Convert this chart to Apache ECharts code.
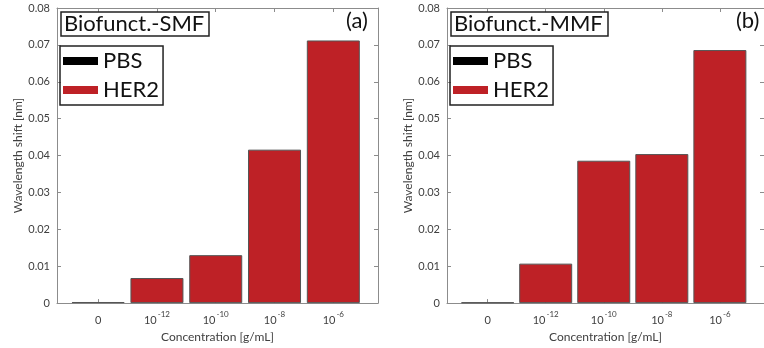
<!DOCTYPE html>
<html>
<head>
<meta charset="utf-8">
<script src="https://cdn.jsdelivr.net/npm/echarts@6/dist/echarts.min.js"></script>
<style>
html,body{margin:0;padding:0;background:#fff;}
#chart{width:764px;height:348px;}
</style>
</head>
<body>
<div id="chart"></div>
<script>
// 横轴位置和刻度标签
var xPos = [1, 2, 3, 4, 5];
var xLabels = ['0', '10^-12', '10^-10', '10^-8', '10^-6'];
// (a) Biofunct.-SMF
var pbsA = [0.0003];
var her2A = [0.0068, 0.0130, 0.0416, 0.0712];
// (b) Biofunct.-MMF
var pbsB = [0.0002];
var her2B = [0.0107, 0.0386, 0.0404, 0.0686];

var font = 'Lato';
var axisGray = '#8c8c8c';
var labelGray = '#404040';
var red = '#be2126';

function toPts(xs, ys){
	var out = [];
	for(var i in ys){
		out.push([xs[i], ys[i]]);
	}
	return out;
}

function xLabelFmt(v){
	var s = xLabels[xPos.indexOf(Math.round(v))] || '';
	var p = s.split('^');
	if(p.length == 1){return '{n|' + s + '}';}
	return '{n|' + p[0] + '}{s|' + p[1] + '}';
}

var richX = {
	n:{fontFamily:font, fontSize:11, color:labelGray, lineHeight:16, verticalAlign:'bottom'},
	s:{fontFamily:font, fontSize:8, color:labelGray, lineHeight:16, verticalAlign:'top', padding:[0,0,6,1]}
};

function bottomX(idx){
	return {
		type:'value', gridIndex:idx, min:0.3, max:5.76,
		name:'Concentration [g/mL]', nameLocation:'middle', nameGap:25,
		nameTextStyle:{fontFamily:font, fontSize:12, color:labelGray},
		axisLine:{show:true, onZero:false, lineStyle:{color:axisGray}},
		axisTick:{show:true, inside:true, length:4, customValues:xPos, lineStyle:{color:axisGray}},
		axisLabel:{show:true, margin:7, customValues:xPos, formatter:xLabelFmt, rich:richX},
		splitLine:{show:false}
	};
}
function topX(idx){
	return {
		type:'value', gridIndex:idx, min:0.3, max:5.76, position:'top',
		axisLine:{show:true, onZero:false, lineStyle:{color:axisGray}},
		axisTick:{show:true, inside:true, length:4, customValues:xPos, lineStyle:{color:axisGray}},
		axisLabel:{show:false},
		splitLine:{show:false}
	};
}
function leftY(idx){
	return {
		type:'value', gridIndex:idx, min:0, max:0.08, interval:0.01,
		name:'Wavelength shift [nm]', nameLocation:'middle', nameGap:33,
		nameTextStyle:{fontFamily:font, fontSize:12, color:labelGray},
		axisLine:{show:true, lineStyle:{color:axisGray}},
		axisTick:{show:true, inside:true, length:4, lineStyle:{color:axisGray}},
		axisLabel:{fontFamily:font, fontSize:11, color:labelGray, margin:7,
			formatter:function(v){return v == 0 ? '0' : v.toFixed(2);}},
		splitLine:{show:false}
	};
}
function rightY(idx){
	return {
		type:'value', gridIndex:idx, min:0, max:0.08, interval:0.01, position:'right',
		axisLine:{show:true, lineStyle:{color:axisGray}},
		axisTick:{show:true, inside:true, length:4, lineStyle:{color:axisGray}},
		axisLabel:{show:false},
		splitLine:{show:false}
	};
}

function legendAt(left){
	return {
		left:left, top:46, orient:'vertical',
		data:['PBS','HER2'],
		icon:'rect', itemWidth:35, itemHeight:8, itemGap:5,
		itemStyle:{borderWidth:0},
		padding:[3,4,3,3],
		borderColor:'#222', borderWidth:1.5,
		textStyle:{fontFamily:font, fontSize:22, color:'#111', lineHeight:24},
		selectedMode:false
	};
}

function barSeries(name, xi, pts, color){
	return {
		name:name, type:'bar', xAxisIndex:xi, yAxisIndex:xi,
		data:pts, barWidth:53, barGap:'-100%',
		itemStyle:{color:color, borderColor:'#555', borderWidth:1},
		emphasis:{disabled:true}
	};
}

var myChart = echarts.init(document.getElementById('chart'));
var option = {
	animation:false,
	title:[
		{text:'Biofunct.-SMF', left:61, top:12, padding:[1,5,1,3], borderColor:'#222', borderWidth:1.5,
			textStyle:{fontFamily:font, fontSize:22, fontWeight:'normal', color:'#111'}},
		{text:'(a)', left:346, top:10, padding:0,
			textStyle:{fontFamily:font, fontSize:22, fontWeight:'normal', color:'#111'}},
		{text:'Biofunct.-MMF', left:451, top:12, padding:[1,5,1,3], borderColor:'#222', borderWidth:1.5,
			textStyle:{fontFamily:font, fontSize:22, fontWeight:'normal', color:'#111'}},
		{text:'(b)', left:736, top:10, padding:0,
			textStyle:{fontFamily:font, fontSize:22, fontWeight:'normal', color:'#111'}}
	],
	legend:[legendAt(60), legendAt(450)],
	grid:[
		{left:57, top:8, width:321, height:300},
		{left:447, top:8, width:318, height:301}
	],
	xAxis:[bottomX(0), bottomX(1), topX(0), topX(1)],
	yAxis:[leftY(0), leftY(1), rightY(0), rightY(1)],
	series:[
		barSeries('PBS', 0, toPts([1], pbsA), '#000'),
		barSeries('HER2', 0, toPts([2,3,4,5], her2A), red),
		barSeries('PBS', 1, toPts([1], pbsB), '#000'),
		barSeries('HER2', 1, toPts([2,3,4,5], her2B), red)
	]
};
// 顶部和右侧的坐标轴只画框线
option.series.push({type:'bar', xAxisIndex:2, yAxisIndex:2, data:[]});
option.series.push({type:'bar', xAxisIndex:3, yAxisIndex:3, data:[]});
myChart.setOption(option);
</script>
</body>
</html>
